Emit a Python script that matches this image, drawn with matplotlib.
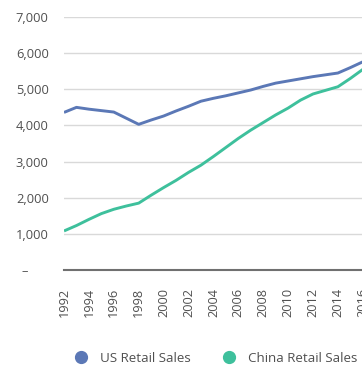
import numpy as np
import matplotlib
matplotlib.use("Agg")
import matplotlib.pyplot as plt
from matplotlib.lines import Line2D
from matplotlib.ticker import FuncFormatter

# data
years = list(range(1992, 2017))
us_sales = [4360, 4500, 4450, 4410, 4370, 4200, 4030, 4150, 4260, 4400,
            4530, 4670, 4750, 4820, 4900, 4980, 5080, 5170, 5230, 5290,
            5350, 5400, 5450, 5600, 5760]
china_sales = [1080, 1230, 1400, 1560, 1680, 1770, 1850, 2070, 2280, 2480,
               2700, 2900, 3140, 3390, 3640, 3870, 4080, 4290, 4480, 4700,
               4870, 4970, 5070, 5300, 5550]
y_ticks = [0, 1000, 2000, 3000, 4000, 5000, 6000, 7000]
x_ticks = list(range(1992, 2017, 2))

us_color = "#5b78b6"
china_color = "#3ec09c"
text_color = "#505050"

plt.rcParams['font.family'] = ['Open Sans', 'DejaVu Sans']

fig = plt.figure(figsize=(3.62, 3.66), dpi=100)
# axes runs past the right edge, the source chart is cropped there
ax = fig.add_axes([64 / 362, 96 / 366, 336 / 362, 253 / 366])

ax.plot(years, us_sales, color=us_color, lw=2.1, solid_capstyle='butt')
ax.plot(years, china_sales, color=china_color, lw=2.1, solid_capstyle='butt')

ax.set_xlim(1992, 1992 + 336 / 12.45)
ax.set_ylim(0, 7000)
ax.set_xticks(x_ticks)
ax.set_yticks(y_ticks)


def fmt_y(v, pos):
    if v == 0:
        return "\u2013      "
    return "{:,.0f}".format(v)


ax.yaxis.set_major_formatter(FuncFormatter(fmt_y))
ax.grid(axis='y', color='#d9d9d9', lw=1)
ax.set_axisbelow(True)
for s in ['top', 'right', 'left']:
    ax.spines[s].set_visible(False)
ax.spines['bottom'].set_color('#707070')
ax.spines['bottom'].set_linewidth(1.5)
ax.tick_params(axis='y', length=0, pad=11, labelsize=9.3, labelcolor=text_color)
ax.tick_params(axis='x', length=0, pad=13, labelsize=9.2, labelcolor=text_color,
               labelrotation=90)

handles = [Line2D([], [], ls='none', marker='o', ms=8.5, color=us_color),
           Line2D([], [], ls='none', marker='o', ms=8.5, color=china_color)]
fig.legend(handles, ['US Retail Sales', 'China Retail Sales'],
           loc='center', bbox_to_anchor=(216 / 362, 8 / 366), ncol=2,
           frameon=False, fontsize=9.6, labelcolor=text_color,
           handletextpad=0.9, columnspacing=2.4, handlelength=1.0)

fig.savefig("out.png", dpi=100)
